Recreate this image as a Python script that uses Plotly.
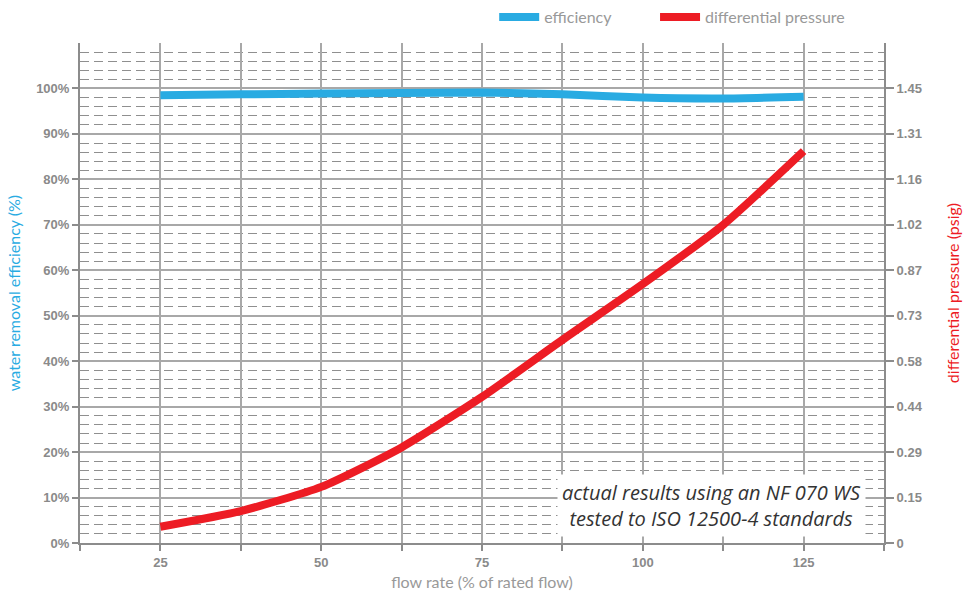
import plotly.graph_objects as go

flow = [25, 37.5, 50, 62.5, 75, 87.5, 100, 112.5, 125]
efficiency = [98.5, 98.7, 98.9, 99.0, 99.1, 98.7, 98.0, 97.8, 98.2]
dp_psig = [0.052, 0.102, 0.179, 0.305, 0.466, 0.648, 0.826, 1.015, 1.25]

x_ticks = [12.5, 25, 37.5, 50, 62.5, 75, 87.5, 100, 112.5, 125, 137.5]
x_labels = ["", "25", "", "50", "", "75", "", "100", "", "125", ""]
y_ticks = [0, 10, 20, 30, 40, 50, 60, 70, 80, 90, 100]
y_labels = ["0%", "10%", "20%", "30%", "40%", "50%", "60%", "70%", "80%", "90%", "100%"]
y2_ticks = [0, 0.145, 0.29, 0.435, 0.58, 0.725, 0.87, 1.015, 1.16, 1.305, 1.45]
y2_labels = ["0", "0.15", "0.29", "0.44", "0.58", "0.73", "0.87", "1.02", "1.16", "1.31", "1.45"]

BLUE = "#29abe2"
RED = "#ed1c24"
GRID = "#a8a8a8"
AXIS = "#8c8c8c"
TICKC = "#8a8a8a"

fig = go.Figure()
fig.add_trace(go.Scatter(x=flow, y=efficiency, name="efficiency", mode="lines",
                         legend="legend",
                         line=dict(color=BLUE, width=8, shape="spline", smoothing=0.6)))
fig.add_trace(go.Scatter(x=flow, y=dp_psig, name="differential pressure", mode="lines",
                         yaxis="y2", legend="legend2",
                         line=dict(color=RED, width=8, shape="spline", smoothing=0.6)))

tickfont = dict(family="Liberation Sans", size=13, color=TICKC, weight="bold")
legfont = dict(family="Lato", size=16, color="#999999")

fig.update_layout(
    width=969, height=595,
    margin=dict(l=80, r=85, t=43, b=52, autoexpand=False),
    plot_bgcolor="white", paper_bgcolor="white",
    showlegend=True,
    legend=dict(orientation="h", xref="container", yref="container",
                x=0.51, xanchor="left", y=1.0, yanchor="top",
                font=legfont, itemwidth=40, bgcolor="rgba(0,0,0,0)"),
    legend2=dict(orientation="h", xref="container", yref="container",
                 x=0.676, xanchor="left", y=1.0, yanchor="top",
                 font=legfont, itemwidth=40, bgcolor="rgba(0,0,0,0)"),
    xaxis=dict(range=[12.5, 137.5], tickvals=x_ticks, ticktext=x_labels,
               automargin=False,
               showgrid=True, gridcolor=GRID, gridwidth=1.5,
               showline=True, linecolor=AXIS, linewidth=2,
               ticks="outside", ticklen=6, tickcolor=AXIS, tickwidth=1.5,
               tickfont=tickfont, zeroline=False,
               title=dict(text="flow rate (% of rated flow)",
                          font=dict(family="Lato", size=16, color="#999999"), standoff=8)),
    yaxis=dict(range=[0, 110], tickvals=y_ticks, ticktext=y_labels,
               automargin=False,
               showgrid=True, gridcolor=GRID, gridwidth=1.5,
               minor=dict(dtick=2, tick0=0, showgrid=True, gridcolor="#8f8f8f",
                          griddash="9px,5px", gridwidth=1.2, ticks=""),
               showline=True, linecolor=AXIS, linewidth=2,
               ticks="outside", ticklen=6, tickcolor=AXIS, tickwidth=1.5,
               tickfont=tickfont, zeroline=False,
               title=dict(text="water removal efficiency (%)",
                          font=dict(family="Lato", size=16, color=BLUE), standoff=12)),
    yaxis2=dict(range=[0, 1.595], tickvals=y2_ticks, ticktext=y2_labels,
                automargin=False,
                overlaying="y", side="right", showgrid=False,
                showline=True, linecolor=AXIS, linewidth=2,
                ticks="outside", ticklen=8, tickcolor=AXIS, tickwidth=1.5,
                tickfont=tickfont, zeroline=False,
                title=dict(text="differential pressure (psig)",
                           font=dict(family="Lato", size=16, color=RED), standoff=26)),
)

fig.add_annotation(xref="paper", yref="paper", x=0.785, y=0.076,
                   xanchor="center", yanchor="middle",
                   text="actual results using an NF 070 WS<br>tested to ISO 12500-4 standards",
                   showarrow=False, align="center", bgcolor="white", borderpad=4,
                   font=dict(family="Open Sans", size=20, color="#333333", style="italic"))

fig.write_html("out.html", config={"displayModeBar": False},
               post_script="document.body.style.margin='0';")
